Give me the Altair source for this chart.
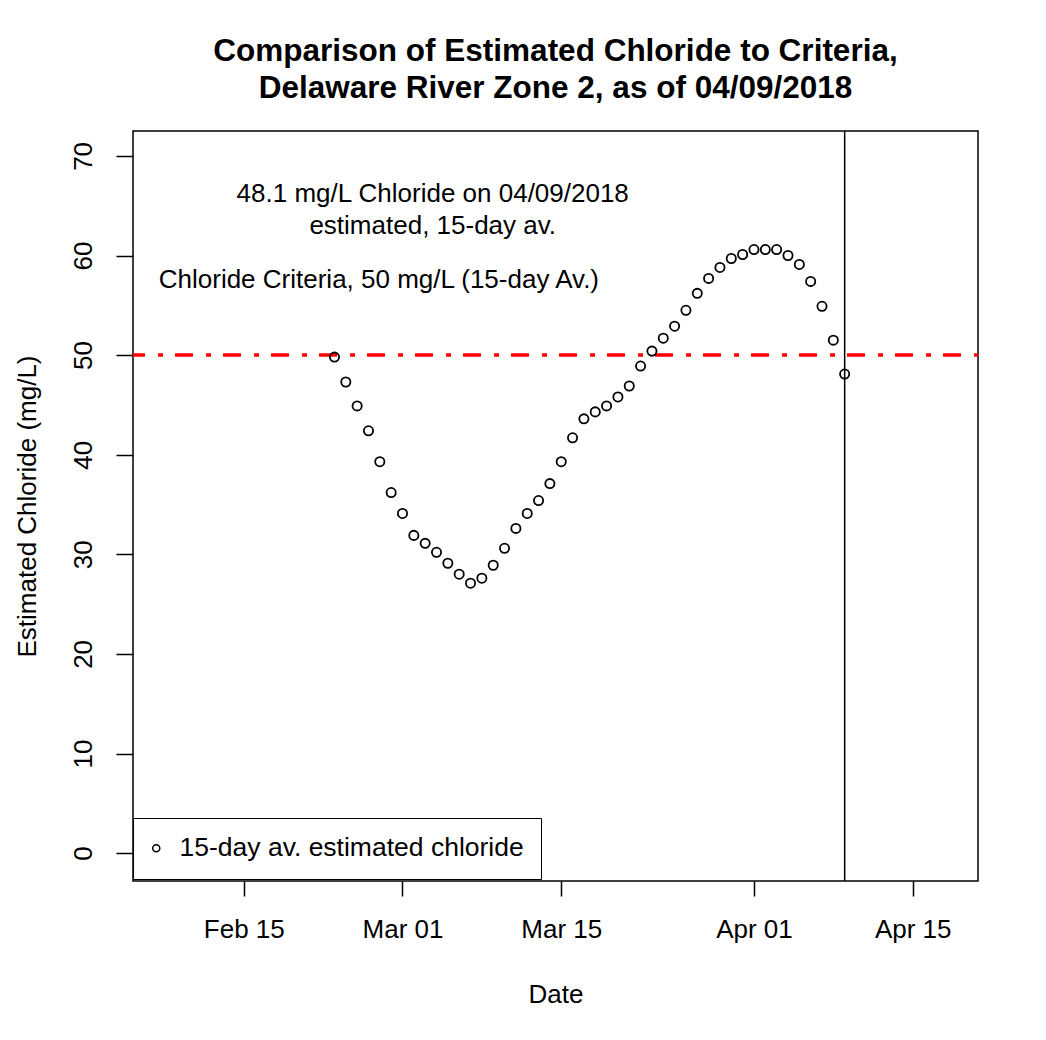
import altair as alt
import pandas as pd

FONT = "Liberation Sans"

# ---- data ----
dates = pd.date_range("2018-02-23", "2018-04-09", freq="D").strftime("%Y-%m-%d").tolist()
chloride = [49.8, 47.3, 44.9, 42.4, 39.3, 36.2, 34.1, 31.9, 31.1, 30.2,
            29.1, 28.0, 27.1, 27.6, 28.9, 30.6, 32.6, 34.1, 35.4, 37.1,
            39.3, 41.7, 43.6, 44.3, 44.9, 45.8, 46.9, 48.9, 50.4, 51.7,
            52.9, 54.5, 56.2, 57.7, 58.8, 59.7, 60.1, 60.6, 60.6, 60.6,
            60.0, 59.1, 57.4, 54.9, 51.5, 48.1]
series_name = "15-day av. estimated chloride"
criteria = 50
current_date = "2018-04-09"

ann_text = ["48.1 mg/L Chloride on 04/09/2018",
            "estimated, 15-day av.",
            "Chloride Criteria, 50 mg/L (15-day Av.)"]
ann_date = ["2018-03-03T16:00:00Z", "2018-03-03T16:00:00Z", "2018-02-26T22:00:00Z"]
ann_value = [65.4, 62.2, 56.7]

y_ticks = [0, 10, 20, 30, 40, 50, 60, 70]
x_ticks = [(2, 15), (3, 1), (3, 15), (4, 1), (4, 15)]

df = pd.DataFrame({"date": dates, "chloride": chloride, "series": series_name})
ann = pd.DataFrame({"date": ann_date, "value": ann_value, "text": ann_text})

x_scale = alt.Scale(
    type="utc",
    domain=[alt.DateTime(year=2018, month=2, date=5, hours=5, minutes=31, utc=True),
            alt.DateTime(year=2018, month=4, date=20, hours=18, minutes=14, utc=True)],
)
y_scale = alt.Scale(domain=[-2.8, 72.5], nice=False, zero=False)

x_axis = alt.Axis(
    values=[alt.DateTime(year=2018, month=m, date=d, utc=True) for m, d in x_ticks],
    labelExpr="utcFormat(datum.value, '%b %d')",
    labelFont=FONT, labelFontSize=26, labelColor="black", labelPadding=20,
    tickSize=15, tickWidth=1.5, tickColor="black", domain=False, grid=False,
    title="Date", titleFont=FONT, titleFontSize=26, titleFontWeight="normal",
    titleColor="black", titleY=121, titleBaseline="alphabetic",
)
y_axis = alt.Axis(
    values=y_ticks, labelAngle=270, labelAlign="center", labelBaseline="bottom",
    labelFont=FONT, labelFontSize=26, labelColor="black", labelPadding=20,
    tickSize=17, tickWidth=1.5, tickColor="black", domain=False, grid=False,
    title="Estimated Chloride (mg/L)", titleFont=FONT, titleFontSize=26,
    titleFontWeight="normal", titleColor="black", titleX=-106, titleY=375,
    titleAngle=270, titleAlign="center", titleBaseline="middle",
)

points = alt.Chart(df).mark_point(
    filled=False, color="black", size=85, strokeWidth=1.8, opacity=1
).encode(
    x=alt.X("date:T", scale=x_scale, axis=x_axis),
    y=alt.Y("chloride:Q", scale=y_scale, axis=y_axis),
    shape=alt.Shape(
        "series:N",
        scale=alt.Scale(range=["circle"]),
        legend=alt.Legend(
            title=None, orient="none", legendX=0, legendY=687,
            strokeColor="black", fillColor="white", padding=17,
            labelFont=FONT, labelFontSize=26.5, labelColor="black",
            labelOffset=10, symbolOffset=-7, labelLimit=0, symbolSize=50,
            symbolStrokeWidth=1.5, symbolStrokeColor="black",
            symbolFillColor="transparent",
        ),
    ),
)

crit_rule = alt.Chart(pd.DataFrame({"y": [criteria]})).mark_rule(
    color="red", strokeWidth=3.5, strokeDash=[18, 12, 5, 13], strokeDashOffset=31
).encode(y=alt.Y("y:Q", scale=y_scale))

date_rule = alt.Chart(pd.DataFrame({"date": [current_date]})).mark_rule(
    color="black", strokeWidth=1.5
).encode(x=alt.X("date:T", scale=x_scale))

texts = alt.Chart(ann).mark_text(
    font=FONT, fontSize=26, color="black", align="center", baseline="alphabetic"
).encode(
    x=alt.X("date:T", scale=x_scale),
    y=alt.Y("value:Q", scale=y_scale),
    text="text:N",
)

chart = alt.layer(crit_rule, date_rule, points, texts).properties(
    width=845, height=750,
    autosize=alt.AutoSizeParams(type="none"),
    padding={"left": 125, "top": 123, "right": 60, "bottom": 140},
    title=alt.TitleParams(
        ["Comparison of Estimated Chloride to Criteria,",
         "Delaware River Zone 2, as of 04/09/2018"],
        font=FONT, fontSize=31.5, fontWeight="bold", color="black",
        anchor="middle", offset=26, lineHeight=37,
    ),
).configure(
    background="white",
    view=alt.ViewConfig(stroke="black", strokeWidth=1.5),
)

chart.save("out.html", embed_options={"renderer": "svg", "actions": False})
